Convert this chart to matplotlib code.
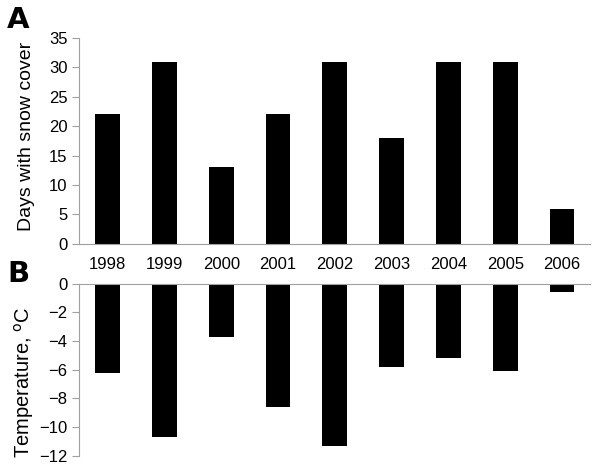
import matplotlib
matplotlib.use("Agg")
from matplotlib import pyplot as plt
import numpy as np

years = ["1998", "1999", "2000", "2001", "2002", "2003", "2004", "2005", "2006"]
snow_days = [22, 31, 13, 22, 31, 18, 31, 31, 6]
temperature = [-6.2, -10.7, -3.7, -8.6, -11.3, -5.8, -5.2, -6.1, -0.6]

plt.rcParams["font.family"] = ["Liberation Sans", "DejaVu Sans"]
grey = "#a0a0a0"

fig = plt.figure(figsize=(6, 4.69), dpi=100)
ax_a = fig.add_axes([0.132, 0.480, 0.852, 0.439])
ax_b = fig.add_axes([0.132, 0.028, 0.852, 0.367])

x = np.arange(len(years))

for ax in (ax_a, ax_b):
    ax.spines["top"].set_visible(False)
    ax.spines["right"].set_visible(False)
    ax.spines["left"].set_color(grey)
    ax.spines["bottom"].set_color(grey)
    ax.tick_params(axis="y", colors=grey, labelcolor="black", labelsize=12,
                   direction="out", length=5)
    ax.set_xticks([])
    ax.set_xlim(-0.5, len(years) - 0.5)

ax_a.bar(x, snow_days, width=0.44, color="black")
ax_a.set_ylim(0, 35)
ax_a.set_yticks(range(0, 36, 5))
ax_a.set_ylabel("Days with snow cover", fontsize=14)
ax_a.yaxis.set_label_coords(-0.086, 0.52)

ax_b.bar(x, temperature, width=0.44, color="black")
ax_b.set_ylim(-12, 0)
ax_b.set_yticks(range(-12, 1, 2))
ax_b.spines["bottom"].set_position(("data", 0))
ax_b.set_ylabel("Temperature, $^{\\mathrm{o}}$C", fontsize=14.5)
ax_b.yaxis.set_label_coords(-0.084, 0.43)

# year labels between the two panels
for i, yr in enumerate(years):
    ax_a.annotate(yr, xy=(i, 0), xycoords="data", xytext=(0, -15),
                  textcoords="offset points", ha="center", va="center",
                  fontsize=12)

fig.text(0.012, 0.957, "A", fontsize=21, fontweight="heavy", va="center",
         family="DejaVu Sans")
fig.text(0.012, 0.416, "B", fontsize=21, fontweight="heavy", va="center",
         family="DejaVu Sans")

fig.savefig("out.png", dpi=100)
